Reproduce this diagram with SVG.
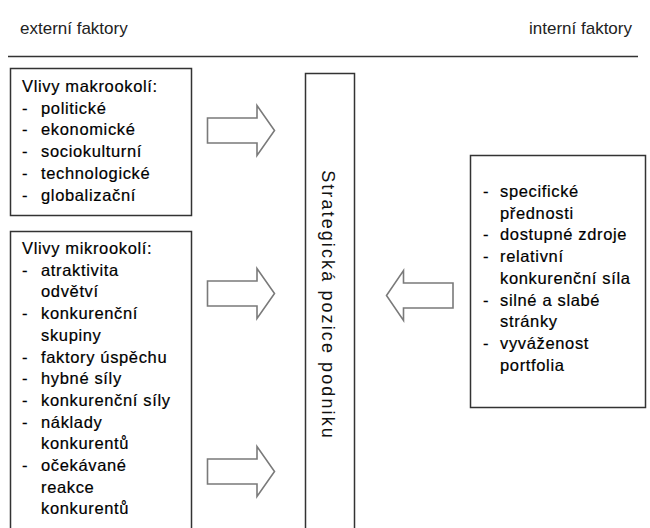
<svg xmlns="http://www.w3.org/2000/svg" width="650" height="528" viewBox="0 0 650 528">
  <style>
    .head { font-family: "Liberation Sans", Arial, sans-serif; font-size: 17px; fill: #222; }
    .txt { font-family: "Liberation Sans", Arial, sans-serif; font-size: 16.5px; fill: #000; stroke: #000; stroke-width: 0.2px; letter-spacing: 0.65px; }
    .box { fill: #fff; stroke: #333; stroke-width: 1.5; }
    .arrow { fill: #fff; stroke: #7a7a7a; stroke-width: 1.6; stroke-linejoin: miter; }
    .rot { font-family: "Liberation Sans", Arial, sans-serif; font-size: 18px; fill: #111; letter-spacing: 2.1px; }
  </style>
  <rect width="650" height="528" fill="#fff"/>

  <!-- header -->
  <g id="header">
    <text class="head" x="20" y="34">externí faktory</text>
    <text class="head" x="632" y="34" text-anchor="end">interní faktory</text>
    <line x1="8" y1="56.5" x2="638" y2="56.5" stroke="#333" stroke-width="1.5"/>
  </g>

  <!-- macro environment -->
  <g id="makro">
    <rect class="box" x="10.5" y="68.5" width="181" height="147"/>
    <text class="txt">
      <tspan x="22" y="92">Vlivy makrookolí:</tspan>
      <tspan x="22" y="113.7">-</tspan><tspan x="41" y="113.7">politické</tspan>
      <tspan x="22" y="135.4">-</tspan><tspan x="41" y="135.4">ekonomické</tspan>
      <tspan x="22" y="157.1">-</tspan><tspan x="41" y="157.1">sociokulturní</tspan>
      <tspan x="22" y="178.8">-</tspan><tspan x="41" y="178.8">technologické</tspan>
      <tspan x="22" y="200.5">-</tspan><tspan x="41" y="200.5">globalizační</tspan>
    </text>
  </g>

  <!-- micro environment -->
  <g id="mikro">
    <rect class="box" x="10.5" y="231.5" width="181" height="310"/>
    <text class="txt">
      <tspan x="22" y="254">Vlivy mikrookolí:</tspan>
      <tspan x="22" y="275.7">-</tspan><tspan x="41" y="275.7">atraktivita</tspan>
      <tspan x="41" y="297.4">odvětví</tspan>
      <tspan x="22" y="319.1">-</tspan><tspan x="41" y="319.1">konkurenční</tspan>
      <tspan x="41" y="340.8">skupiny</tspan>
      <tspan x="22" y="362.5">-</tspan><tspan x="41" y="362.5">faktory úspěchu</tspan>
      <tspan x="22" y="384.2">-</tspan><tspan x="41" y="384.2">hybné síly</tspan>
      <tspan x="22" y="405.9">-</tspan><tspan x="41" y="405.9">konkurenční síly</tspan>
      <tspan x="22" y="427.6">-</tspan><tspan x="41" y="427.6">náklady</tspan>
      <tspan x="41" y="449.3">konkurentů</tspan>
      <tspan x="22" y="471">-</tspan><tspan x="41" y="471">očekávané</tspan>
      <tspan x="41" y="492.7">reakce</tspan>
      <tspan x="41" y="514.4">konkurentů</tspan>
    </text>
  </g>

  <!-- strategic position (centre) -->
  <g id="pozice">
    <rect class="box" x="305.5" y="73.5" width="49" height="470"/>
    <text class="rot" transform="translate(322 305) rotate(90)" text-anchor="middle">Strategická pozice podniku</text>
  </g>

  <!-- internal factors -->
  <g id="interni">
    <rect class="box" x="470.5" y="155.5" width="175" height="252"/>
    <text class="txt">
      <tspan x="483" y="197">-</tspan><tspan x="500" y="197">specifické</tspan>
      <tspan x="500" y="218.7">přednosti</tspan>
      <tspan x="483" y="240.4">-</tspan><tspan x="500" y="240.4">dostupné zdroje</tspan>
      <tspan x="483" y="262.1">-</tspan><tspan x="500" y="262.1">relativní</tspan>
      <tspan x="500" y="283.8">konkurenční síla</tspan>
      <tspan x="483" y="305.5">-</tspan><tspan x="500" y="305.5">silné a slabé</tspan>
      <tspan x="500" y="327.2">stránky</tspan>
      <tspan x="483" y="348.9">-</tspan><tspan x="500" y="348.9">vyváženost</tspan>
      <tspan x="500" y="370.6">portfolia</tspan>
    </text>
  </g>

  <!-- block arrows -->
  <g id="connectors">
    <path id="arrow-makro" class="arrow" d="M207.5 118 H257 V105.5 L274.5 130.5 L257 155.5 V143 H207.5 Z"/>
    <path id="arrow-mikro" class="arrow" d="M207.5 281 H257 V268.5 L274.5 293.5 L257 318.5 V306 H207.5 Z"/>
    <path id="arrow-mikro2" class="arrow" d="M207.5 459 H257 V446.5 L274.5 471.5 L257 496.5 V484 H207.5 Z"/>
    <path id="arrow-interni" class="arrow" d="M453 283 H403.5 V270.5 L386.5 295.5 L403.5 320.5 V308 H453 Z"/>
  </g>
</svg>
